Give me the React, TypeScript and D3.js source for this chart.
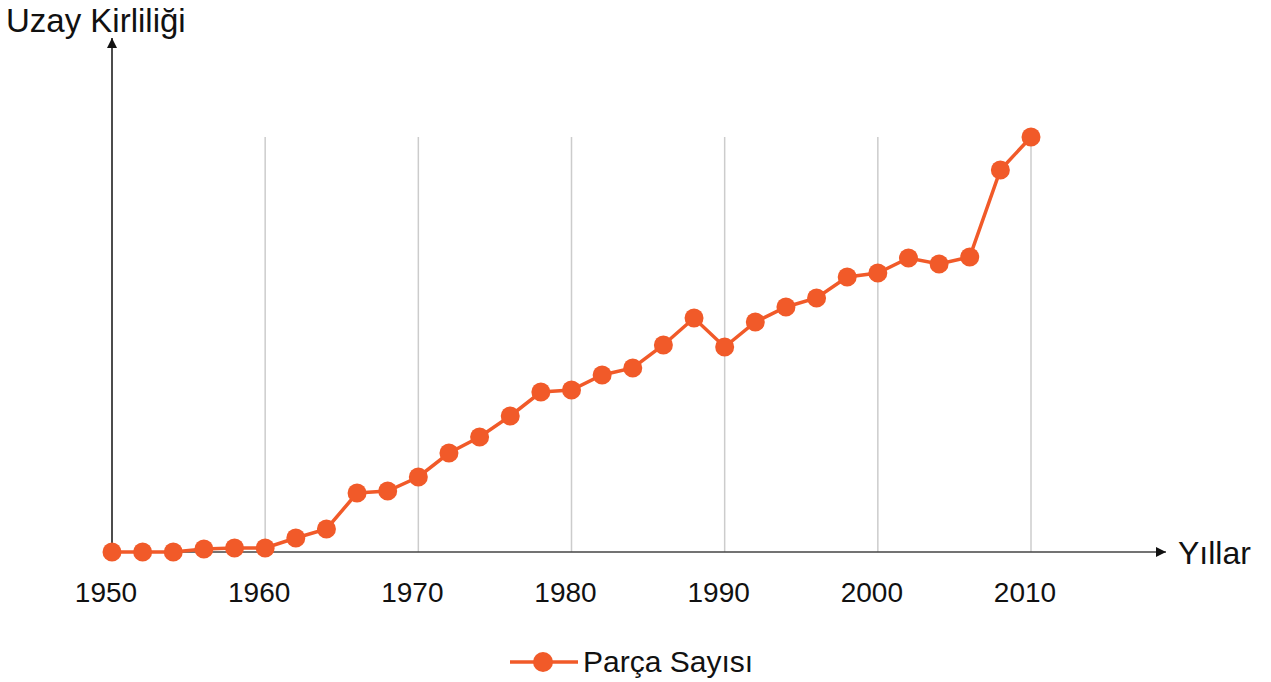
import { useEffect, useRef } from 'react';
import * as d3 from 'd3';

const years = [
  1950, 1952, 1954, 1956, 1958, 1960, 1962, 1964, 1966, 1968, 1970,
  1972, 1974, 1976, 1978, 1980, 1982, 1984, 1986, 1988, 1990,
  1992, 1994, 1996, 1998, 2000, 2002, 2004, 2006, 2008, 2010,
];
const pieces = [
  0, 0, 0, 3, 4, 4, 14, 23, 59, 61, 75,
  99, 115, 136, 160, 162, 177, 184, 207, 234, 205,
  230, 245, 254, 275, 279, 294, 288, 295, 382, 415,
];
const tickYears = [1950, 1960, 1970, 1980, 1990, 2000, 2010];
const gridYears = [1960, 1970, 1980, 1990, 2000, 2010];
const seriesName = 'Parça Sayısı';
const yTitle = 'Uzay Kirliliği';
const xTitle = 'Yıllar';

function App() {
  const ref = useRef<SVGSVGElement>(null);
  const width = 1271;
  const height = 682;
  const color = '#f15a29';
  const font = '"Liberation Sans", Arial, sans-serif';

  useEffect(() => {
    const svg = d3.select(ref.current);
    svg.selectAll('*').remove();

    const x = d3.scaleLinear().domain([1950, 2010]).range([112, 1031]);
    const y = d3.scaleLinear().domain([0, 415]).range([552, 137]);

    const defs = svg.append('defs');
    defs.append('marker')
      .attr('id', 'arrow')
      .attr('viewBox', '0 0 10 10')
      .attr('refX', 10)
      .attr('refY', 5)
      .attr('markerWidth', 11)
      .attr('markerHeight', 10)
      .attr('markerUnits', 'userSpaceOnUse')
      .attr('orient', 'auto')
      .append('path')
      .attr('d', 'M0,0 L10,5 L0,10 z')
      .attr('fill', '#111');

    // grid
    svg.append('g')
      .selectAll('line')
      .data(gridYears)
      .enter()
      .append('line')
      .attr('x1', (d) => x(d))
      .attr('x2', (d) => x(d))
      .attr('y1', y(415))
      .attr('y2', y(0))
      .attr('stroke', '#cccccc')
      .attr('stroke-width', 1.5);

    // axes
    svg.append('line')
      .attr('x1', x(1950))
      .attr('x2', 1166)
      .attr('y1', y(0))
      .attr('y2', y(0))
      .attr('stroke', '#444')
      .attr('stroke-width', 1.5)
      .attr('marker-end', 'url(#arrow)');

    svg.append('line')
      .attr('x1', x(1950))
      .attr('x2', x(1950))
      .attr('y1', y(0))
      .attr('y2', 38)
      .attr('stroke', '#111')
      .attr('stroke-width', 1.5)
      .attr('marker-end', 'url(#arrow)');

    svg.append('g')
      .selectAll('text')
      .data(tickYears)
      .enter()
      .append('text')
      .attr('x', (d) => x(d) - 6)
      .attr('y', 602)
      .attr('text-anchor', 'middle')
      .attr('font-family', font)
      .attr('font-size', 28)
      .attr('fill', '#111')
      .text((d) => d);

    svg.append('text')
      .attr('x', 6)
      .attr('y', 32)
      .attr('font-family', font)
      .attr('font-size', 33)
      .attr('fill', '#111')
      .text(yTitle);

    svg.append('text')
      .attr('x', 1178)
      .attr('y', 564)
      .attr('font-family', font)
      .attr('font-size', 32)
      .attr('fill', '#111')
      .text(xTitle);

    // series
    const line = d3.line<number>()
      .x((_, i) => x(years[i]))
      .y((d) => y(d));

    svg.append('path')
      .datum(pieces)
      .attr('d', line)
      .attr('fill', 'none')
      .attr('stroke', color)
      .attr('stroke-width', 3.5);

    svg.append('g')
      .selectAll('circle')
      .data(pieces)
      .enter()
      .append('circle')
      .attr('cx', (_, i) => x(years[i]))
      .attr('cy', (d) => y(d))
      .attr('r', 9.5)
      .attr('fill', color);

    // legend
    const lg = svg.append('g').attr('transform', 'translate(510, 662)');
    lg.append('line')
      .attr('x1', 0)
      .attr('x2', 68)
      .attr('y1', 0)
      .attr('y2', 0)
      .attr('stroke', color)
      .attr('stroke-width', 3.5);
    lg.append('circle')
      .attr('cx', 33)
      .attr('cy', 0)
      .attr('r', 10)
      .attr('fill', color);
    lg.append('text')
      .attr('x', 73)
      .attr('y', 10)
      .attr('font-family', font)
      .attr('font-size', 30)
      .attr('fill', '#111')
      .text(seriesName);
  }, []);

  return (
    <svg
      ref={ref}
      width={width}
      height={height}
      style={{ position: 'absolute', left: 0, top: 0, background: '#fff' }}
    />
  );
}

export default App;
